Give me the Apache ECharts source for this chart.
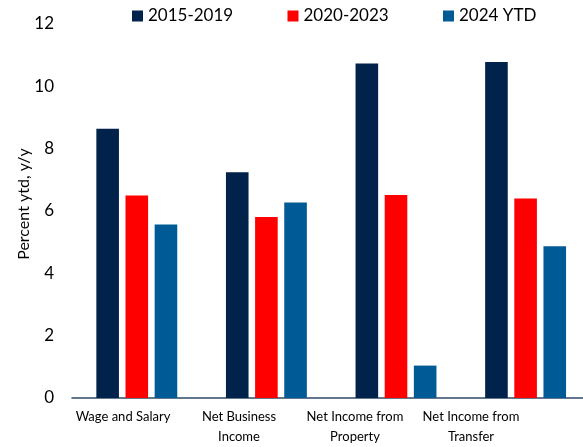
<!DOCTYPE html>
<html>
<head>
<meta charset="utf-8">
<script src="https://cdn.jsdelivr.net/npm/echarts@6/dist/echarts.min.js"></script>
<style>
  html, body { margin: 0; padding: 0; background: #fff; overflow: hidden; }
  #chart { width: 600px; height: 447px; }
</style>
</head>
<body>
<div id="chart"></div>
<script>
// Personal income components, percent change y/y (ytd)
const categories = ['Wage and Salary', 'Net Business\nIncome', 'Net Income from\nProperty', 'Net Income from\nTransfer'];
const seriesNames = ['2015-2019', '2020-2023', '2024 YTD'];
const avg2015_2019 = [8.64, 7.24, 10.73, 10.78];
const avg2020_2023 = [6.50, 5.81, 6.51, 6.40];
const ytd2024 = [5.57, 6.27, 1.04, 4.87];
const yTicks = { min: 0, max: 12, interval: 2 };

const colors = ['#00224B', '#FF0000', '#005A96'];
const font = 'Lato, "Open Sans", sans-serif';

const chart = echarts.init(document.getElementById('chart'), null, { renderer: 'canvas' });

const values = [avg2015_2019, avg2020_2023, ytd2024];

chart.setOption({
  animation: false,
  textStyle: { fontFamily: font, color: '#000' },
  legend: {
    left: 132,
    top: 6,
    width: 480,
    padding: 0,
    itemWidth: 11,
    itemHeight: 11,
    itemGap: 0,
    itemTextGap: 4,
    icon: 'rect',
    textStyle: { fontFamily: font, fontSize: 17, color: '#000', width: 139.5, lineHeight: 20 },
    data: seriesNames
  },
  grid: [
    { left: 72, top: 24, width: 518.4, height: 374, containLabel: false },
    // label row for the category names
    { left: 65, top: 24, width: 464, height: 374, containLabel: false }
  ],
  xAxis: [
    {
      type: 'category',
      gridIndex: 0,
      data: categories,
      axisLine: { show: true, lineStyle: { color: '#2F4A6A', width: 1.5 } },
      axisTick: { show: false },
      axisLabel: { show: false },
      splitLine: { show: false }
    },
    {
      type: 'category',
      gridIndex: 1,
      data: categories,
      axisLine: { show: false },
      axisTick: { show: false },
      axisLabel: {
        show: true, interval: 0, margin: 10,
        fontFamily: font, fontSize: 13, lineHeight: 20, color: '#000'
      },
      splitLine: { show: false }
    }
  ],
  yAxis: [
    {
      type: 'value',
      gridIndex: 0,
      min: yTicks.min,
      max: yTicks.max,
      interval: yTicks.interval,
      name: 'Percent ytd, y/y',
      nameLocation: 'middle',
      nameGap: 40,
      nameMoveOverlap: false,
      nameTextStyle: { fontFamily: font, fontSize: 16, color: '#000', padding: [0, 0, 0, 14] },
      axisLine: { show: false },
      axisTick: { show: false },
      splitLine: { show: false },
      axisLabel: { margin: 18, fontFamily: font, fontSize: 17, color: '#000' }
    },
    {
      type: 'value',
      gridIndex: 1,
      min: yTicks.min,
      max: yTicks.max,
      show: false
    }
  ],
  series: seriesNames.map((name, i) => ({
    name,
    type: 'bar',
    xAxisIndex: 0,
    yAxisIndex: 0,
    data: values[i],
    barWidth: 22.6,
    barGap: '29%',
    itemStyle: { color: colors[i] }
  }))
});
</script>
</body>
</html>
